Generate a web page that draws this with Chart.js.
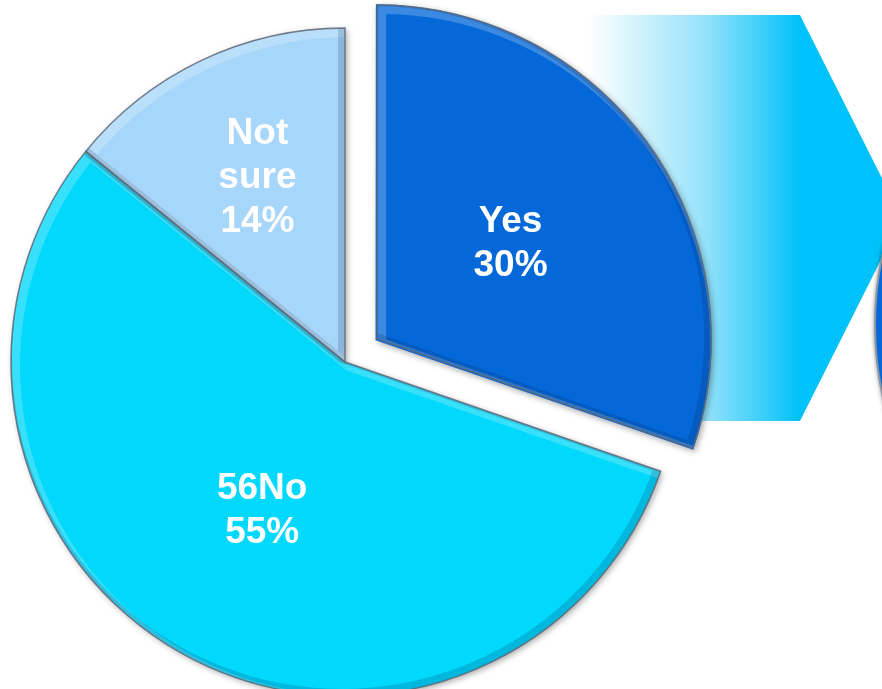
<!DOCTYPE html>
<html>
<head>
<meta charset="utf-8">
<script src="https://cdn.jsdelivr.net/npm/chart.js@4.4.1/dist/chart.umd.min.js"></script>
<style>
    html, body { margin: 0; padding: 0; background: #ffffff; }
    #wrap { width: 882px; height: 689px; overflow: hidden; position: relative; }
    #pieChart { display: block; }
</style>
</head>
<body>
<div id="wrap">
    <canvas id="pieChart" width="882" height="740"></canvas>
</div>
<script>
// Survey answers
const categories = ["Yes", "56No", "Not sure"];
const answerShares = [30, 55, 14];
const percentLabels = ["30%", "55%", "14%"];
const labelLines = [["Yes"], ["56No"], ["Not", "sure"]];

const sliceColors = ["#0468d8", "#00d8fc", "#a6d6fa"];

// Chevron and partial circle painted behind the pie
const backdrop = {
    id: "backdrop",
    beforeDraw(chart) {
        const ctx = chart.ctx;
        ctx.save();
        const grad = ctx.createLinearGradient(588, 0, 800, 0);
        grad.addColorStop(0, "rgba(255,255,255,1)");
        grad.addColorStop(0.55, "rgba(150,226,250,1)");
        grad.addColorStop(1, "#00c2fa");
        ctx.fillStyle = grad;
        ctx.beginPath();
        ctx.moveTo(588, 15);
        ctx.lineTo(800, 15);
        ctx.lineTo(902, 218);
        ctx.lineTo(800, 421);
        ctx.lineTo(588, 421);
        ctx.closePath();
        ctx.fill();

        // edge of the next pie peeking in at the right
        ctx.shadowColor = "rgba(0,0,0,0.45)";
        ctx.shadowBlur = 4;
        ctx.shadowOffsetX = -1;
        ctx.beginPath();
        ctx.arc(1205, 325, 330, 0, Math.PI * 2);
        ctx.fillStyle = "#0468d8";
        ctx.fill();
        ctx.shadowColor = "transparent";
        ctx.lineWidth = 2;
        ctx.strokeStyle = "#8a96a3";
        ctx.stroke();
        ctx.restore();
    }
};

// how far Chart.js actually pushes an arc out for a given offset
function arcShift(arc, off) {
    const p = arc.getProps(["circumference"], true);
    const fix = 1 - Math.sin(Math.min(Math.PI, p.circumference || 0));
    return off / 4 * (1 + fix);
}

function slicePath(ctx, p, shift) {
    const mid = (p.startAngle + p.endAngle) / 2;
    const x = p.x + Math.cos(mid) * shift;
    const y = p.y + Math.sin(mid) * shift;
    ctx.beginPath();
    ctx.moveTo(x, y);
    ctx.arc(x, y, p.outerRadius, p.startAngle, p.endAngle);
    ctx.closePath();
}

// Soft shadow under the slices, bevel on top of them
const sliceShadow = {
    id: "sliceShadow",
    beforeDatasetsDraw(chart) {
        const ctx = chart.ctx;
        ctx.save();
        ctx.shadowColor = "rgba(0,0,0,0.35)";
        ctx.shadowBlur = 6;
        ctx.shadowOffsetX = 2;
        ctx.shadowOffsetY = 2;
    },
    afterDatasetsDraw(chart) {
        const ctx = chart.ctx;
        ctx.restore();
        const meta = chart.getDatasetMeta(0);
        const ds = chart.data.datasets[0];
        meta.data.forEach((arc, i) => {
            const p = arc.getProps(["x", "y", "startAngle", "endAngle", "outerRadius"], true);
            const shift = arcShift(arc, ds.offset[i] || 0);
            ctx.save();
            slicePath(ctx, p, shift);
            ctx.clip();
            ctx.lineJoin = "round";
            // light from the upper left
            ctx.save();
            ctx.translate(4, 4);
            slicePath(ctx, p, shift);
            ctx.lineWidth = 10;
            ctx.strokeStyle = "rgba(255,255,255,0.22)";
            ctx.stroke();
            ctx.restore();
            // darker lower right rim
            ctx.save();
            ctx.translate(-3, -3);
            slicePath(ctx, p, shift);
            ctx.lineWidth = 8;
            ctx.strokeStyle = "rgba(0,20,60,0.16)";
            ctx.stroke();
            ctx.restore();
            ctx.restore();
            // outline
            ctx.save();
            slicePath(ctx, p, shift);
            ctx.lineWidth = 1.5;
            ctx.strokeStyle = "rgba(95,105,120,0.85)";
            ctx.stroke();
            ctx.restore();
        });
    }
};

// White labels inside each slice
const sliceLabels = {
    id: "sliceLabels",
    afterDatasetsDraw(chart) {
        const ctx = chart.ctx;
        const meta = chart.getDatasetMeta(0);
        const ds = chart.data.datasets[0];
        const factors = [0.49, 0.51, 0.61];
        ctx.save();
        ctx.fillStyle = "#ffffff";
        ctx.font = "bold 37px 'Liberation Sans', Arial, sans-serif";
        ctx.textAlign = "center";
        ctx.textBaseline = "middle";
        meta.data.forEach((arc, i) => {
            const p = arc.getProps(["x", "y", "startAngle", "endAngle", "outerRadius"], true);
            const mid = (p.startAngle + p.endAngle) / 2;
            const dist = arcShift(arc, ds.offset[i] || 0) + p.outerRadius * factors[i];
            const cx = p.x + Math.cos(mid) * dist;
            const cy = p.y + Math.sin(mid) * dist;
            const lines = labelLines[i].concat([percentLabels[i]]);
            const lh = 44;
            const top = cy - (lines.length - 1) * lh / 2;
            lines.forEach((t, k) => ctx.fillText(t, cx, top + k * lh));
        });
        ctx.restore();
    }
};

const ctx = document.getElementById("pieChart").getContext("2d");
new Chart(ctx, {
    type: "pie",
    data: {
        labels: categories,
        datasets: [{
            data: answerShares,
            backgroundColor: sliceColors,
            borderWidth: 0,
            offset: [150, 0, 0]
        }]
    },
    options: {
        responsive: false,
        animation: false,
        radius: 334,
        layout: { padding: { left: 0, top: 0, right: 192, bottom: 16 } },
        plugins: {
            legend: { display: false },
            tooltip: { enabled: false }
        }
    },
    plugins: [backdrop, sliceShadow, sliceLabels]
});
</script>
</body>
</html>
